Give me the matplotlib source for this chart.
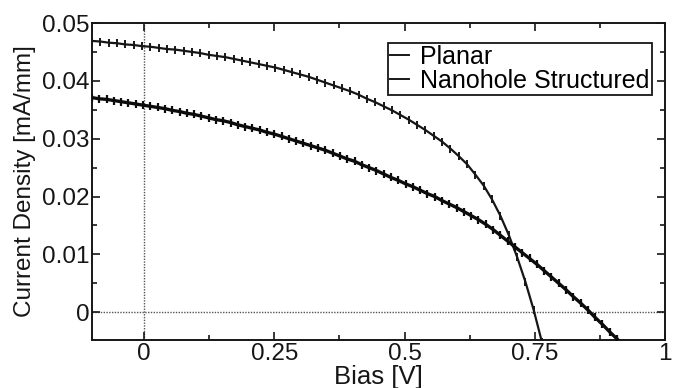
import matplotlib
matplotlib.use("Agg")
import matplotlib.pyplot as plt
from matplotlib.ticker import MultipleLocator
from matplotlib.lines import Line2D

plt.rcParams['font.family'] = ['Liberation Sans', 'DejaVu Sans']

# J-V curves: bias [V] and current density [mA/mm]
planar_bias_start, planar_bias_step = -0.1, 0.016
planar_current = [
    0.0469, 0.0468, 0.0466, 0.0465, 0.0463, 0.0462, 0.0460, 0.0459, 0.0457, 0.0455,
    0.0454, 0.0452, 0.0450, 0.0448, 0.0445, 0.0443, 0.0441, 0.0438, 0.0435, 0.0432,
    0.0429, 0.0426, 0.0423, 0.0419, 0.0415, 0.0411, 0.0407, 0.0402, 0.0397, 0.0392,
    0.0387, 0.0382, 0.0376, 0.0369, 0.0363, 0.0356, 0.0349, 0.0341, 0.0333, 0.0324,
    0.0315, 0.0305, 0.0295, 0.0283, 0.0270, 0.0256, 0.0238, 0.0219, 0.0195, 0.0167,
    0.0134, 0.0096, 0.0053, 0.0004, -0.0052,
]
planar_bias = [round(planar_bias_start + i * planar_bias_step, 3)
               for i in range(len(planar_current))]

nanohole_bias_start, nanohole_bias_step = -0.1, 0.014
nanohole_current = [
    0.0371, 0.0369, 0.0368, 0.0366, 0.0364, 0.0362, 0.0360, 0.0358, 0.0356, 0.0354,
    0.0352, 0.0349, 0.0347, 0.0344, 0.0342, 0.0339, 0.0336, 0.0333, 0.0331, 0.0328,
    0.0324, 0.0321, 0.0318, 0.0315, 0.0311, 0.0308, 0.0304, 0.0300, 0.0296, 0.0292,
    0.0288, 0.0284, 0.0280, 0.0275, 0.0270, 0.0265, 0.0261, 0.0255, 0.0250, 0.0245,
    0.0239, 0.0233, 0.0228, 0.0222, 0.0217, 0.0211, 0.0205, 0.0200, 0.0193, 0.0187,
    0.0181, 0.0174, 0.0167, 0.0160, 0.0152, 0.0143, 0.0133, 0.0123, 0.0113, 0.0103,
    0.0093, 0.0083, 0.0072, 0.0061, 0.0050, 0.0039, 0.0027, 0.0016, 0.0004, -0.0009,
    -0.0021, -0.0034, -0.0046, -0.0059,
]
nanohole_bias = [round(nanohole_bias_start + i * nanohole_bias_step, 3)
                 for i in range(len(nanohole_current))]

series_labels = ["Planar", "Nanohole Structured"]
x_ticks = [0, 0.25, 0.5, 0.75, 1]
x_tick_labels = ["0", "0.25", "0.5", "0.75", "1"]
y_ticks = [0, 0.01, 0.02, 0.03, 0.04, 0.05]
y_tick_labels = ["0", "0.01", "0.02", "0.03", "0.04", "0.05"]

INK = "#161616"
FS = 17.5

fig = plt.figure(figsize=(6.73, 3.88), dpi=100)
ax = fig.add_axes([0.1367, 0.1237, 0.8513, 0.817])

# reference lines at zero bias / zero current
ax.axvline(0, color="#555555", lw=1.0, ls=(0, (1, 1)), zorder=1)
ax.axhline(0, color="#555555", lw=1.0, ls=(0, (1, 1)), zorder=1)

ax.plot(planar_bias, planar_current, color=INK, lw=1.6,
        marker="|", ms=6, mew=1.4, zorder=3)
ax.plot(nanohole_bias, nanohole_current, color="#0c0c0c", lw=2.4,
        marker="|", ms=6, mew=1.6, zorder=3)

ax.set_xlim(-0.1, 1.0)
ax.set_ylim(-0.0048, 0.05)
ax.set_xticks(x_ticks)
ax.set_xticklabels(x_tick_labels)
ax.set_yticks(y_ticks)
ax.set_yticklabels(y_tick_labels)
ax.xaxis.set_minor_locator(MultipleLocator(0.125))
ax.yaxis.set_minor_locator(MultipleLocator(0.005))

ax.tick_params(which="both", direction="in", top=True, right=True,
               labelsize=FS, width=1.2, color=INK, labelcolor=INK)
ax.tick_params(which="major", length=6, pad=2)
ax.tick_params(which="minor", length=3.5)
for sp in ax.spines.values():
    sp.set_linewidth(1.4)
    sp.set_color(INK)

ax.set_xlabel("Bias [V]", fontsize=FS + 1, labelpad=0, color=INK)
ax.set_ylabel("Current Density [mA/mm]", fontsize=FS, labelpad=4, color=INK)

handles = [Line2D([], [], color=INK, lw=1.4),
           Line2D([], [], color=INK, lw=1.4)]
leg = ax.legend(handles, series_labels, loc="upper right",
                bbox_to_anchor=(0.977, 0.937), fontsize=FS + 0.5,
                handlelength=0.75, handletextpad=0.45, labelspacing=0.0,
                borderpad=0.08, borderaxespad=0, fancybox=False,
                framealpha=1, edgecolor=INK)
leg.get_frame().set_linewidth(1.3)

fig.savefig("out.png", dpi=100)
